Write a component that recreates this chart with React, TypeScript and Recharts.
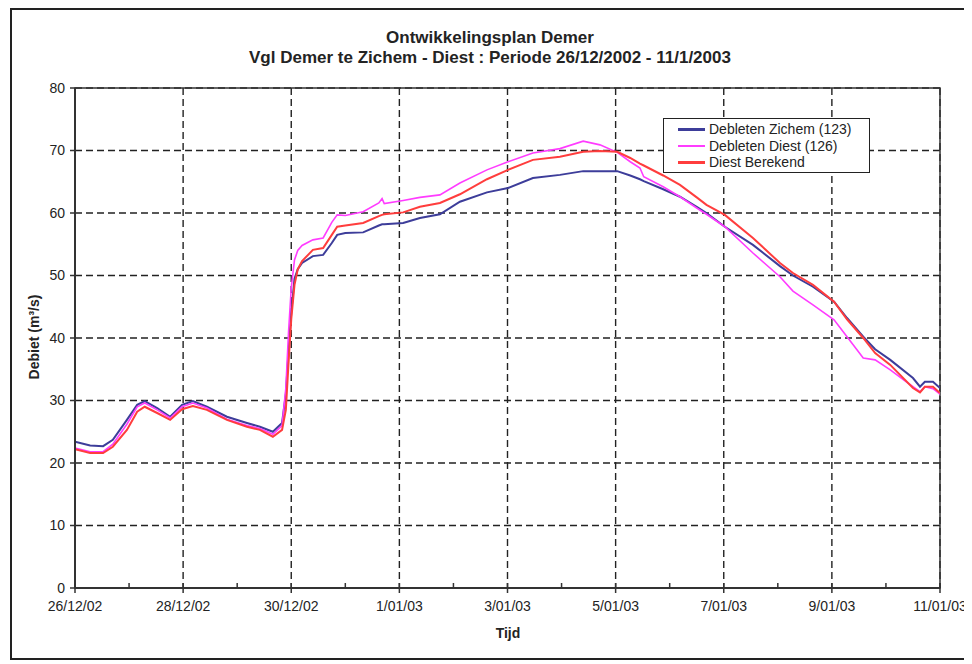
import React from "react";
import {
  CartesianGrid,
  Line,
  LineChart,
  ReferenceArea,
  XAxis,
  YAxis,
} from "recharts";

// time in days after 26/12/2002 00:00
const days = [
  0, 0.28, 0.52, 0.7, 0.96, 1.15, 1.29, 1.52, 1.76, 1.98, 2.18, 2.44, 2.81, 3.18,
  3.42, 3.66, 3.83, 3.9, 3.95, 4.0, 4.06, 4.12, 4.2, 4.4, 4.59, 4.75, 4.85, 5.0,
  5.33, 5.62, 5.68, 5.72, 6.07, 6.38, 6.75, 7.12, 7.62, 8.01, 8.47, 8.97, 9.4,
  9.71, 10.03, 10.27, 10.45, 10.52, 10.88, 11.19, 11.5, 11.68, 12.02, 12.54,
  13.04, 13.28, 13.65, 14.04, 14.28, 14.58, 14.8, 15.08, 15.5, 15.63, 15.72,
  15.87, 16,
];

const zichem = [
  23.4, 22.8, 22.7, 23.7, 26.9, 29.3, 29.9, 28.8, 27.4, 29.3, 29.9, 29.0, 27.4,
  26.4, 25.8, 25.0, 26.4, 31, 38, 44, 49.5, 51, 52, 53.1, 53.3, 55.2, 56.5, 56.8,
  56.9, 58.0, 58.2, 58.2, 58.4, 59.2, 59.8, 61.8, 63.3, 64.0, 65.6, 66.1, 66.7,
  66.7, 66.7, 66.0, 65.4, 65.1, 63.8, 62.6, 61.0, 60.0, 57.8, 54.9, 51.5, 50.0,
  48.2, 45.8, 43.2, 40.2, 38.2, 36.5, 33.6, 32.2, 33.0, 33.0, 32.0,
];

const diest = [
  22.4, 21.8, 21.8, 23.0, 26.2, 29.0, 29.6, 28.5, 27.2, 29.0, 29.6, 28.8, 27.0,
  26.0, 25.5, 24.6, 26.0, 32, 41, 48, 52.5, 54.0, 54.8, 55.7, 56.0, 58.5, 59.7,
  59.6, 60.2, 61.6, 62.3, 61.5, 62.0, 62.5, 62.9, 64.8, 66.9, 68.2, 69.6, 70.3,
  71.5, 70.9, 69.7, 68.2, 67.2, 65.8, 64.2, 62.6, 60.8, 59.8, 57.8, 53.6, 49.8,
  47.5, 45.3, 42.9, 40.2, 36.8, 36.5, 34.9, 32.2, 31.4, 32.2, 31.9, 31.0,
];

const berekend = [
  22.2, 21.6, 21.6, 22.6, 25.3, 28.2, 29.0, 28.0, 26.9, 28.6, 29.1, 28.5, 26.9,
  25.8, 25.3, 24.2, 25.3, 28.5, 36, 43, 48.5, 51, 52.3, 54.1, 54.4, 56.5, 57.8,
  58.0, 58.4, 59.5, 59.7, 59.8, 60.1, 61.0, 61.6, 63.0, 65.4, 66.9, 68.5, 69.0,
  69.8, 69.9, 69.8, 68.8, 67.9, 67.6, 66.0, 64.5, 62.5, 61.3, 59.7, 56.0, 52.0,
  50.4, 48.5, 45.8, 43.0, 40.0, 37.6, 35.7, 32.0, 31.3, 32.2, 32.2, 31.2,
];

const dateLabels = [
  "26/12/02",
  "28/12/02",
  "30/12/02",
  "1/01/03",
  "3/01/03",
  "5/01/03",
  "7/01/03",
  "9/01/03",
  "11/01/03",
];
const dayTicks = Array.from({ length: 17 }, (_, i) => i);
const gridDays = [0, 2, 4, 6, 8, 10, 12, 14, 16];
const yTicks = [0, 10, 20, 30, 40, 50, 60, 70, 80];

const seriesInfo = [
  { key: "zichem", name: "Debleten Zichem (123)", color: "#3d3d9a", width: 2 },
  { key: "diest", name: "Debleten Diest (126)", color: "#ff3cff", width: 1.6 },
  { key: "berekend", name: "Diest Berekend", color: "#ff3d3d", width: 2 },
];

const data = days.map((d, i) => ({
  day: d,
  zichem: zichem[i],
  diest: diest[i],
  berekend: berekend[i],
}));

const FONT = '"Liberation Sans", Arial, sans-serif';
const TEXT = "#232323";
const X_TICK_SIZE = 6;
const X_TICK_MARGIN = 4;

const DayTick = (props: any) => {
  const { x, y, payload } = props;
  const axisY = y - X_TICK_SIZE - X_TICK_MARGIN;
  const day = payload.value;
  const major = day % 2 === 0;
  return (
    <g>
      <line
        x1={x}
        x2={x}
        y1={axisY - 5}
        y2={major ? axisY + 5 : axisY}
        stroke="#333"
        strokeWidth={1.5}
      />
      {major && (
        <text
          x={x}
          y={axisY + 23}
          textAnchor="middle"
          fontSize={14}
          fontFamily={FONT}
          fill={TEXT}
        >
          {dateLabels[day / 2]}
        </text>
      )}
    </g>
  );
};

export default function App() {
  return (
    <div
      style={{
        position: "relative",
        width: 960,
        height: 652,
        marginLeft: 2,
        border: "2px solid #222",
        boxSizing: "border-box",
        background: "#fff",
        fontFamily: FONT,
        color: TEXT,
      }}
    >
      <div
        style={{
          position: "absolute",
          top: 18,
          left: 0,
          width: 956,
          textAlign: "center",
          fontSize: 17,
          fontWeight: "bold",
          lineHeight: "20px",
        }}
      >
        <div>Ontwikkelingsplan Demer</div>
        <div>Vgl Demer te Zichem - Diest : Periode 26/12/2002 - 11/1/2003</div>
      </div>

      <LineChart
        width={956}
        height={648}
        data={data}
        margin={{ top: 78, right: 28, bottom: 40, left: 13 }}
      >
        <CartesianGrid
          stroke="#222"
          strokeWidth={1.4}
          strokeDasharray="7 4"
          verticalValues={gridDays}
          horizontalValues={yTicks}
        />
        <XAxis
          dataKey="day"
          type="number"
          domain={[0, 16]}
          ticks={dayTicks}
          interval={0}
          height={30}
          tickSize={X_TICK_SIZE}
          tickMargin={X_TICK_MARGIN}
          tickLine={false}
          tick={<DayTick />}
          axisLine={{ stroke: "#333", strokeWidth: 2 }}
          allowDataOverflow
        />
        <YAxis
          type="number"
          domain={[0, 80]}
          ticks={yTicks}
          interval={0}
          width={50}
          tickSize={5}
          tickMargin={5}
          tickLine={{ stroke: "#333", strokeWidth: 1.5 }}
          axisLine={{ stroke: "#333", strokeWidth: 2 }}
          tick={{ fontSize: 14, fontFamily: FONT, fill: TEXT }}
        />
        <ReferenceArea
          x1={0}
          x2={16}
          y1={0}
          y2={80}
          fill="none"
          stroke="#333"
          strokeWidth={1.5}
        />
        {seriesInfo.map((s) => (
          <Line
            key={s.key}
            type="linear"
            dataKey={s.key}
            name={s.name}
            stroke={s.color}
            strokeWidth={s.width}
            dot={false}
            isAnimationActive={false}
          />
        ))}
      </LineChart>

      <div
        style={{
          position: "absolute",
          left: 22,
          top: 327,
          transform: "translate(-50%, -50%) rotate(-90deg)",
          fontSize: 14,
          fontWeight: "bold",
          whiteSpace: "nowrap",
        }}
      >
        Debiet (m³/s)
      </div>
      <div
        style={{
          position: "absolute",
          left: 496,
          top: 623,
          transform: "translate(-50%, -50%)",
          fontSize: 14,
          fontWeight: "bold",
        }}
      >
        Tijd
      </div>

      <div
        style={{
          position: "absolute",
          left: 651,
          top: 108,
          width: 207,
          height: 55,
          boxSizing: "border-box",
          border: "1.5px solid #222",
          background: "#fff",
          paddingTop: 2,
        }}
      >
        {seriesInfo.map((s) => (
          <div
            key={s.key}
            style={{
              display: "flex",
              alignItems: "center",
              height: 16.5,
              fontSize: 14,
              whiteSpace: "nowrap",
            }}
          >
            <span
              style={{
                display: "inline-block",
                width: 27,
                height: 2.5,
                marginLeft: 14,
                marginRight: 4,
                background: s.color,
              }}
            />
            {s.name}
          </div>
        ))}
      </div>
    </div>
  );
}
